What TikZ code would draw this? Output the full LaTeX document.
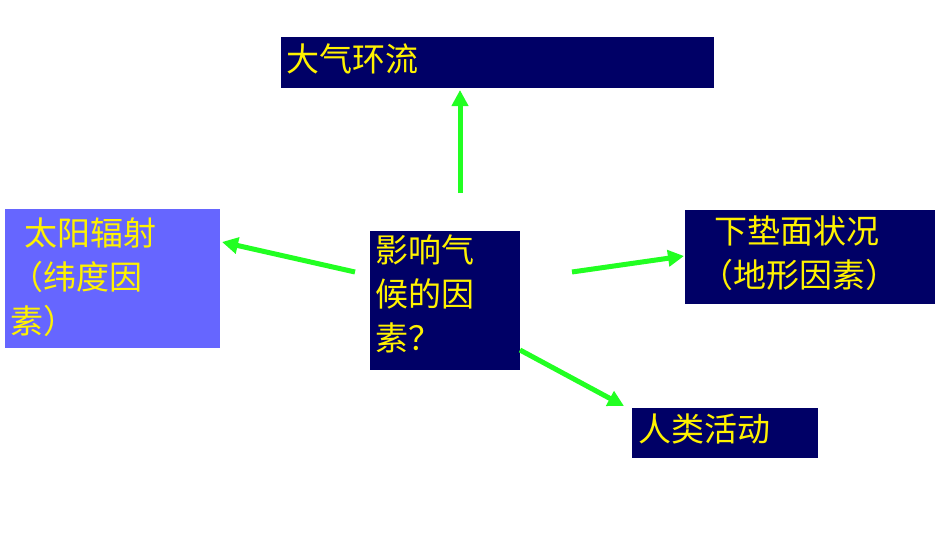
\documentclass[tikz,border=0pt]{standalone}
\usepackage{fontspec}
\setmainfont{Noto Sans CJK SC}
\usetikzlibrary{arrows.meta}
\definecolor{navy}{HTML}{000066}
\definecolor{peri}{HTML}{6666FF}
\definecolor{grn}{HTML}{22FF22}
\begin{document}
\begin{tikzpicture}[x=1pt,y=-1pt,
 box/.style={fill=navy,inner sep=0pt,anchor=north west},
 txt/.style={text=yellow,font=\fontsize{33}{44}\selectfont,anchor=north west,align=left,inner sep=0pt},
 arr/.style={draw=grn,line width=5pt,-{Triangle[length=16pt,width=16pt]}}]
\useasboundingbox[fill=white] (0,0) rectangle (950,535);
\fill[navy] (281,37) rectangle (714,88);
\node[txt] (t1) at (286,44) {大气环流};
\fill[peri] (5,209) rectangle (220,348);
\node[txt] (t2) at (10,218) {\ \ 太阳辐射\\（纬度因\\素）};
\fill[navy] (370,231) rectangle (520,370);
\node[txt] (t3) at (375,235) {影响气\\候的因\\素？};
\fill[navy] (685,210) rectangle (935,304);
\node[txt] (t4) at (700,216) {\ \ 下垫面状况\\（地形因素）};
\fill[navy] (632,408) rectangle (818,458);
\node[txt] (t5) at (638,414) {人类活动};
\coordinate (a1) at (460,193); \coordinate (b1) at (460,90);
\coordinate (a2) at (355,272); \coordinate (b2) at (222,242);
\coordinate (a3) at (572,272); \coordinate (b3) at (684,256);
\coordinate (a4) at (520,350); \coordinate (b4) at (624,406);
\draw[arr] (a1)--(b1);
\draw[arr] (a2)--(b2);
\draw[arr] (a3)--(b3);
\draw[arr] (a4)--(b4);
\end{tikzpicture}
\end{document}
